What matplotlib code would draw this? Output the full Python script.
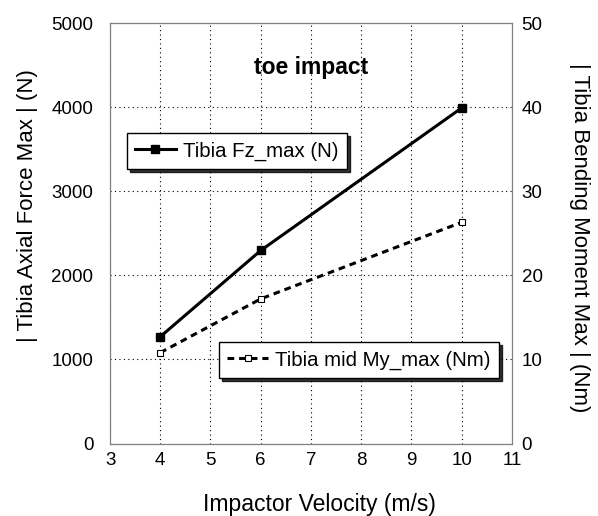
import matplotlib.pyplot as plt

plt.rcParams['font.family'] = ['Liberation Sans', 'DejaVu Sans']

# impactor velocity (m/s)
velocity = [4, 6, 10]
# tibia axial force max (N)
fz_max = [1270, 2295, 3990]
# tibia mid bending moment max (Nm)
my_max = [10.8, 17.2, 26.3]

fig = plt.figure(figsize=(5.98, 5.16), dpi=100)
ax = fig.add_axes([0.184, 0.1405, 0.672, 0.8149])
ax2 = ax.twinx()

ln1, = ax.plot(velocity, fz_max, color='k', lw=2.2, marker='s', ms=6,
               mfc='k', mec='k', label='Tibia Fz_max (N)')
ln2, = ax2.plot(velocity, my_max, color='k', lw=2.2, ls=(0, (2.2, 1.6)),
                marker='s', ms=5, mfc='white', mec='k', mew=0.8,
                label='Tibia mid My_max (Nm)')

ax.set_xlim(3, 11)
ax.set_ylim(0, 5000)
ax2.set_ylim(0, 50)
ax.set_xticks(range(3, 12))
ax.set_yticks(range(0, 5001, 1000))
ax2.set_yticks(range(0, 51, 10))

ax.grid(color='k', linestyle=(0, (1, 3)), linewidth=0.8)
for a in (ax, ax2):
    a.tick_params(length=0, labelsize=13.5)
    for s in a.spines.values():
        s.set_color('#7f7f7f')
ax.tick_params(axis='x', pad=6)
ax.tick_params(axis='y', pad=12)
ax2.tick_params(axis='y', pad=7)

ax.set_xlabel('Impactor Velocity (m/s)', fontsize=16.5)
ax.xaxis.label.set_va('center')
ax.xaxis.set_label_coords(0.522, -0.144)
ax.set_ylabel('| Tibia Axial Force Max | (N)', fontsize=16)
ax.yaxis.label.set_va('center')
ax.yaxis.set_label_coords(-0.205, 0.567)
ax2.set_ylabel('| Tibia Bending Moment Max | (Nm)', fontsize=16,
               rotation=270)
ax2.yaxis.label.set_va('center')
ax2.yaxis.set_label_coords(1.168, 0.49)

ax.text(0.5, 0.895, 'toe impact', transform=ax.transAxes, ha='center',
        va='center', fontsize=16.5, fontweight='bold')

leg_kw = dict(loc='upper left', borderaxespad=0, fancybox=False,
              edgecolor='k', framealpha=1, fontsize=14.7, handlelength=2.0,
              handletextpad=0.35, borderpad=0.4,
              shadow={'color': 'k', 'alpha': 0.8})
leg1 = ax.legend(handles=[ln1], bbox_to_anchor=(0.042, 0.738), **leg_kw)
leg1.get_frame().set_linewidth(1.0)
leg2 = ax2.legend(handles=[ln2], bbox_to_anchor=(0.271, 0.241), **leg_kw)
leg2.get_frame().set_linewidth(1.0)

fig.savefig('out.png', dpi=100)
